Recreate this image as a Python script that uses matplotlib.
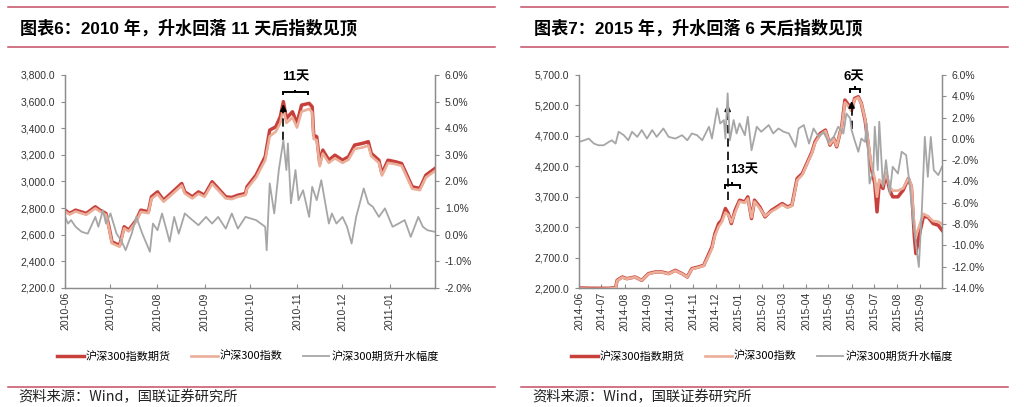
import numpy as np
import pandas as pd
import matplotlib
matplotlib.use('Agg')
import matplotlib.pyplot as plt
import matplotlib.dates as mdates
from matplotlib.lines import Line2D
from matplotlib.ticker import FuncFormatter, FixedLocator

plt.rcParams['font.family'] = ['Liberation Sans', 'Noto Sans CJK SC']

# ---------------- 2010 panel data ----------------
dates10 = ['2010-06-01', '2010-06-04', '2010-06-08', '2010-06-15', '2010-06-21', '2010-06-24', '2010-06-28',
           '2010-06-30', '2010-07-02', '2010-07-07', '2010-07-10', '2010-07-13', '2010-07-18', '2010-07-21',
           '2010-07-26', '2010-07-28', '2010-08-01', '2010-08-05', '2010-08-11', '2010-08-17', '2010-08-19',
           '2010-08-24', '2010-08-28', '2010-09-01', '2010-09-06', '2010-09-10', '2010-09-15', '2010-09-19',
           '2010-09-23', '2010-09-28', '2010-09-29', '2010-10-05', '2010-10-11', '2010-10-14', '2010-10-18',
           '2010-10-21', '2010-10-23', '2010-10-25', '2010-10-29', '2010-11-01', '2010-11-04', '2010-11-09',
           '2010-11-11', '2010-11-12', '2010-11-14', '2010-11-16', '2010-11-18', '2010-11-22', '2010-11-26',
           '2010-12-01', '2010-12-05', '2010-12-09', '2010-12-14', '2010-12-18', '2010-12-20', '2010-12-25',
           '2010-12-27', '2010-12-31', '2011-01-05', '2011-01-09', '2011-01-13', '2011-01-16', '2011-01-21',
           '2011-01-25', '2011-01-31']
fut10 = [2785, 2760, 2785, 2760, 2810, 2785, 2760, 2660, 2546, 2520, 2660, 2635, 2710, 2785, 2773, 2885,
         2922, 2860, 2922, 2985, 2922, 2885, 2922, 2897, 2998, 2948, 2885, 2880, 2897, 2910, 2960, 3048,
         3186, 3386, 3411, 3487, 3600, 3474, 3524, 3436, 3574, 3587, 3562, 3349, 3336, 3135, 3236, 3160,
         3198, 3160, 3186, 3274, 3286, 3299, 3211, 3160, 3060, 3160, 3148, 3135, 3035, 2960, 2948, 3048, 3098]
idx10 = [2775, 2752, 2775, 2750, 2798, 2775, 2750, 2650, 2535, 2510, 2648, 2625, 2700, 2772, 2762, 2870,
         2905, 2848, 2908, 2970, 2910, 2873, 2908, 2885, 2982, 2935, 2873, 2868, 2885, 2898, 2945, 3030,
         3160, 3340, 3375, 3440, 3545, 3440, 3480, 3405, 3525, 3545, 3520, 3320, 3310, 3115, 3210, 3140,
         3175, 3140, 3165, 3245, 3255, 3270, 3190, 3140, 3045, 3140, 3130, 3118, 3020, 2945, 2935, 3030, 3080]

prem_dates10 = ['2010-06-01', '2010-06-03', '2010-06-05', '2010-06-08', '2010-06-12', '2010-06-16', '2010-06-21',
                '2010-06-23', '2010-06-26', '2010-06-28', '2010-07-01', '2010-07-05', '2010-07-08', '2010-07-11',
                '2010-07-15', '2010-07-18', '2010-07-22', '2010-07-27', '2010-07-29', '2010-08-01', '2010-08-04',
                '2010-08-07', '2010-08-09', '2010-08-12', '2010-08-15', '2010-08-19', '2010-08-24', '2010-08-28',
                '2010-09-02', '2010-09-06', '2010-09-10', '2010-09-15', '2010-09-19', '2010-09-23', '2010-09-28',
                '2010-10-05', '2010-10-11', '2010-10-12', '2010-10-14', '2010-10-17', '2010-10-20', '2010-10-23',
                '2010-10-25', '2010-10-26', '2010-10-28', '2010-10-31', '2010-11-02', '2010-11-05', '2010-11-09',
                '2010-11-11', '2010-11-14', '2010-11-17', '2010-11-22', '2010-11-24', '2010-11-27', '2010-12-01',
                '2010-12-04', '2010-12-07', '2010-12-10', '2010-12-15', '2010-12-18', '2010-12-21', '2010-12-25',
                '2010-12-29', '2011-01-03', '2011-01-07', '2011-01-11', '2011-01-15', '2011-01-20', '2011-01-23',
                '2011-01-26', '2011-01-31']
prem10 = [0.67, 0.42, 0.55, 0.30, 0.11, 0.04, 0.67, 0.30, 0.92, 0.42, 0.80, 0.04, -0.21, -0.58, 0.04, 0.67,
          0.04, -0.64, 0.42, 0.17, 0.80, 0.17, -0.26, 0.67, 0.04, 0.80, 0.55, 0.36, 0.67, 0.42, 0.67, 0.23,
          0.80, 0.23, 0.67, 0.55, 0.30, -0.58, 1.93, 0.80, 2.43, 3.55, 2.43, 3.43, 1.18, 2.43, 1.30, 1.67,
          0.67, 1.80, 1.30, 2.05, 0.42, 0.80, 0.42, 0.67, 0.30, -0.33, 0.67, 1.74, 1.18, 1.05, 0.67, 0.99,
          0.30, 0.42, 0.55, -0.08, 0.67, 0.30, 0.17, 0.11]

# ---------------- 2015 panel data ----------------
dates15 = ['2014-06-01', '2014-06-21', '2014-07-11', '2014-07-20', '2014-07-22', '2014-07-29', '2014-08-04',
           '2014-08-15', '2014-08-24', '2014-09-02', '2014-09-11', '2014-09-20', '2014-09-29', '2014-10-08',
           '2014-10-17', '2014-10-24', '2014-10-30', '2014-11-08', '2014-11-15', '2014-11-22', '2014-11-26',
           '2014-11-30', '2014-12-05', '2014-12-09', '2014-12-14', '2014-12-18', '2014-12-22', '2014-12-27',
           '2015-01-02', '2015-01-09', '2015-01-13', '2015-01-18', '2015-01-22', '2015-01-29', '2015-02-05',
           '2015-02-14', '2015-02-21', '2015-02-28', '2015-03-07', '2015-03-13', '2015-03-20', '2015-03-27',
           '2015-04-02', '2015-04-09', '2015-04-13', '2015-04-20', '2015-04-27', '2015-05-03', '2015-05-08',
           '2015-05-12', '2015-05-19', '2015-05-23', '2015-05-28', '2015-06-01', '2015-06-05', '2015-06-10',
           '2015-06-14', '2015-06-19', '2015-06-23', '2015-06-27', '2015-07-02', '2015-07-05', '2015-07-08',
           '2015-07-13', '2015-07-17', '2015-07-22', '2015-07-26', '2015-08-02', '2015-08-09', '2015-08-16',
           '2015-08-20', '2015-08-24', '2015-08-26', '2015-08-30', '2015-09-05', '2015-09-11', '2015-09-18',
           '2015-09-25', '2015-09-30']
fut15 = [2200, 2195, 2195, 2205, 2326, 2381, 2353, 2381, 2326, 2436, 2463, 2463, 2436, 2491, 2436, 2381,
         2518, 2546, 2573, 2765, 2875, 3094, 3259, 3314, 3506, 3423, 3259, 3478, 3643, 3615, 3698, 3341,
         3643, 3533, 3369, 3478, 3533, 3588, 3533, 3560, 3999, 4082, 4246, 4438, 4603, 4740, 4795, 4548,
         4658, 4520, 4877, 5289, 5206, 5124, 5316, 5343, 5234, 4959, 4575, 4191, 3917, 3451, 3917, 3835,
         4082, 3807, 3698, 3698, 3807, 3999, 3862, 3039, 2765, 3039, 3369, 3369, 3259, 3231, 3149]
idx15 = [2190, 2185, 2190, 2200, 2320, 2375, 2350, 2378, 2325, 2430, 2458, 2458, 2432, 2485, 2432, 2380,
         2510, 2540, 2565, 2740, 2850, 3060, 3210, 3280, 3440, 3400, 3280, 3440, 3620, 3600, 3670, 3360,
         3620, 3510, 3380, 3460, 3510, 3570, 3520, 3550, 3970, 4060, 4230, 4420, 4580, 4720, 4780, 4560,
         4650, 4530, 4860, 5250, 5180, 5110, 5300, 5330, 5230, 4980, 4620, 4250, 4000, 3700, 3980, 3900,
         4100, 3860, 3800, 3800, 3840, 4000, 3900, 3200, 3050, 3200, 3420, 3380, 3300, 3290, 3250]

prem_dates15 = ['2014-06-01', '2014-06-08', '2014-06-14', '2014-06-21', '2014-06-27', '2014-07-04', '2014-07-11',
                '2014-07-15', '2014-07-20', '2014-07-24', '2014-07-31', '2014-08-06', '2014-08-11', '2014-08-18',
                '2014-08-24', '2014-08-31', '2014-09-07', '2014-09-13', '2014-09-22', '2014-09-29', '2014-10-08',
                '2014-10-17', '2014-10-24', '2014-10-30', '2014-11-06', '2014-11-13', '2014-11-22', '2014-11-26',
                '2014-12-03', '2014-12-07', '2014-12-12', '2014-12-14', '2014-12-17', '2014-12-20', '2014-12-25',
                '2014-12-29', '2015-01-02', '2015-01-09', '2015-01-13', '2015-01-18', '2015-01-25', '2015-01-31',
                '2015-02-10', '2015-02-16', '2015-02-23', '2015-03-02', '2015-03-09', '2015-03-18', '2015-03-22',
                '2015-03-29', '2015-04-05', '2015-04-11', '2015-04-18', '2015-04-24', '2015-05-01', '2015-05-08',
                '2015-05-14', '2015-05-21', '2015-05-25', '2015-05-30', '2015-06-01', '2015-06-05', '2015-06-10',
                '2015-06-14', '2015-06-19', '2015-06-21', '2015-06-25', '2015-06-30', '2015-07-02', '2015-07-06',
                '2015-07-08', '2015-07-13', '2015-07-17', '2015-07-22', '2015-07-26', '2015-08-02', '2015-08-07',
                '2015-08-13', '2015-08-18', '2015-08-22', '2015-08-26', '2015-08-30', '2015-09-03', '2015-09-07',
                '2015-09-11', '2015-09-15', '2015-09-19', '2015-09-25', '2015-09-30']
prem15 = [-0.28, -0.13, 0.03, -0.44, -0.60, -0.60, -0.28, -0.13, -0.44, 0.67, 0.35, -0.13, 0.67, 0.19,
          0.83, 0.03, 0.83, 0.19, 0.98, 0.19, 0.03, 0.35, -0.13, 0.51, 0.35, -0.13, 1.14, 0.03,
          2.87, 1.45, 1.77, 0.03, 4.28, -0.13, 1.77, 0.51, 1.45, 0.35, 2.08, -1.07, 1.14, 0.67,
          1.30, 0.51, 0.98, 0.67, 0.51, -0.75, 0.98, 1.30, -0.44, 0.98, 0.19, 0.67, -0.28, 0.19,
          1.14, 0.51, 2.39, 1.92, 0.83, -0.13, -1.21, 0.03, -0.28, 1.45, -4.19, -2.93, 1.14, -2.93,
          1.61, -4.50, -1.99, -5.13, -2.62, -3.25, -1.21, -1.52, -4.50, -7.32, -9.83, -12.03, -6.70, 0.19,
          -3.56, 0.19, -2.93, -3.40, -2.62]

# axis tick values
yticks10 = [2200, 2400, 2600, 2800, 3000, 3200, 3400, 3600, 3800]
y2ticks10 = [-2, -1, 0, 1, 2, 3, 4, 5, 6]
yticks15 = [2200, 2700, 3200, 3700, 4200, 4700, 5200, 5700]
y2ticks15 = [-14, -12, -10, -8, -6, -4, -2, 0, 2, 4, 6]

series_labels = ['沪深300指数期货', '沪深300指数', '沪深300期货升水幅度']
titles = ['图表6：2010 年，升水回落 11 天后指数见顶', '图表7：2015 年，升水回落 6 天后指数见顶']
source_text = '资料来源：Wind，国联证券研究所'

FUT_C = '#C8403C'
IDX_C = '#EBAE98'
PREM_C = '#A6A6A6'
RULE_C = '#C44E64'
SPINE_C = '#8C8C8C'
TXT_C = '#333333'

fig = plt.figure(figsize=(10.24, 4.07), dpi=100)
W, H = 1024.0, 407.0


def fx(px):
    return px / W


def fy(py):
    return 1 - py / H


def style_axes(ax, ax2):
    for a in (ax, ax2):
        a.spines['top'].set_visible(False)
        for s in ('left', 'right', 'bottom'):
            a.spines[s].set_color(SPINE_C)
            a.spines[s].set_linewidth(0.9)
        a.tick_params(axis='y', labelsize=7.5, colors=SPINE_C, labelcolor=TXT_C, length=3, direction='out', pad=4)
    ax.tick_params(axis='x', labelsize=7.5, colors=SPINE_C, labelcolor=TXT_C, length=3, direction='in',
                   rotation=90, pad=3)
    ax.xaxis.set_major_locator(mdates.MonthLocator())
    ax.xaxis.set_major_formatter(mdates.DateFormatter('%Y-%m'))
    ax.yaxis.set_major_formatter(FuncFormatter(lambda v, p: '{:,.1f}'.format(v)))
    ax2.yaxis.set_major_formatter(FuncFormatter(lambda v, p: '{:.1f}%'.format(v)))


def bracket(ax, x0, x1, y, d):
    xm = (mdates.datestr2num(x0) + mdates.datestr2num(x1)) / 2
    a, b = mdates.datestr2num(x0), mdates.datestr2num(x1)
    ax.plot([a, a, xm, xm, xm, b, b], [y - d, y, y, y + d, y, y, y - d], color='black', lw=1.4,
            solid_joinstyle='miter', clip_on=False, zorder=6)


def arrow(ax, x, y0, y1, head):
    xn = mdates.datestr2num(x)
    ax.plot([xn, xn], [y0, y1 - head], color='black', lw=1.2, ls=(0, (5, 3)), zorder=6)
    ax.annotate('', xy=(xn, y1), xytext=(xn, y1 - head),
                arrowprops=dict(arrowstyle='-|>', color='black', lw=1.2, mutation_scale=9), zorder=6)


panels = [
    dict(left=65, right=435, dates=dates10, fut=fut10, idx=idx10, pd_=prem_dates10, prem=prem10,
         xlim=('2010-06-01', '2011-01-31'), yt=yticks10, y2t=y2ticks10,
         rule=(8, 495), leg_x=248),
    dict(left=579, right=942, dates=dates15, fut=fut15, idx=idx15, pd_=prem_dates15, prem=prem15,
         xlim=('2014-06-01', '2015-09-30'), yt=yticks15, y2t=y2ticks15,
         rule=(521, 1008), leg_x=762),
]

axes = []
for p in panels:
    ax = fig.add_axes([fx(p['left']), fy(288), fx(p['right'] - p['left']), (288 - 75) / H])
    ax2 = ax.twinx()
    d = pd.to_datetime(p['dates'])
    h1, = ax.plot(d, p['fut'], color=FUT_C, lw=2.5, label=series_labels[0], zorder=3)
    h2, = ax.plot(d, p['idx'], color=IDX_C, lw=1.9, label=series_labels[1], zorder=4)
    h3, = ax2.plot(pd.to_datetime(p['pd_']), p['prem'], color=PREM_C, lw=1.3, label=series_labels[2])
    ax.set_xlim(pd.Timestamp(p['xlim'][0]), pd.Timestamp(p['xlim'][1]))
    ax.set_ylim(p['yt'][0], p['yt'][-1])
    ax.yaxis.set_major_locator(FixedLocator(p['yt']))
    ax2.set_ylim(p['y2t'][0], p['y2t'][-1])
    ax2.yaxis.set_major_locator(FixedLocator(p['y2t']))
    style_axes(ax, ax2)

    # header / footer rules
    x0, x1 = p['rule']
    for yy in (7, 47, 387):
        fig.add_artist(Line2D([fx(x0), fx(x1)], [fy(yy), fy(yy)], color=RULE_C, lw=1.1))
    fig.legend([h1, h2, h3], series_labels, loc='center', bbox_to_anchor=(fx(p['leg_x']), fy(356)), ncol=3,
               frameon=False, handlelength=2.4, columnspacing=1.8, handletextpad=0.2,
               prop={'family': ['Noto Sans CJK SC'], 'size': 8})
    axes.append((ax, ax2))

fig.text(fx(20), fy(28), titles[0], fontsize=12.3, fontweight='bold', va='center', ha='left',
         family=['Liberation Sans', 'Noto Sans CJK SC'])
fig.text(fx(534), fy(28), titles[1], fontsize=12.3, fontweight='bold', va='center', ha='left',
         family=['Liberation Sans', 'Noto Sans CJK SC'])
for sx in (18, 532):
    fig.text(fx(sx), fy(397), source_text, fontsize=10.3, va='center', ha='left', color='#222222',
             family=['Noto Sans CJK SC'])

# annotations, 2010 panel
ax = axes[0][0]
arrow(ax, '2010-10-23', 3310, 3600, 60)
bracket(ax, '2010-10-23', '2010-11-08', 3672, 18)
ax.text(mdates.datestr2num('2010-10-31'), 3735, '11天', fontsize=9.5, fontweight='bold', ha='center',
        va='bottom', family=['Liberation Sans', 'Noto Sans CJK SC'], clip_on=False)

# annotations, 2015 panel
ax = axes[1][0]
arrow(ax, '2014-12-17', 3640, 5260, 180)
bracket(ax, '2014-12-14', '2015-01-02', 3890, 45)
ax.text(mdates.datestr2num('2014-12-20'), 4140, '13天', fontsize=9.5, fontweight='bold', ha='left',
        va='center', family=['Liberation Sans', 'Noto Sans CJK SC'])
arrow(ax, '2015-06-01', 4820, 5316, 150)
bracket(ax, '2015-05-30', '2015-06-12', 5470, 45)
ax.text(mdates.datestr2num('2015-06-04'), 5560, '6天', fontsize=9.5, fontweight='bold', ha='center',
        va='bottom', family=['Liberation Sans', 'Noto Sans CJK SC'], clip_on=False)

fig.savefig('out.png', dpi=100, facecolor='white')
